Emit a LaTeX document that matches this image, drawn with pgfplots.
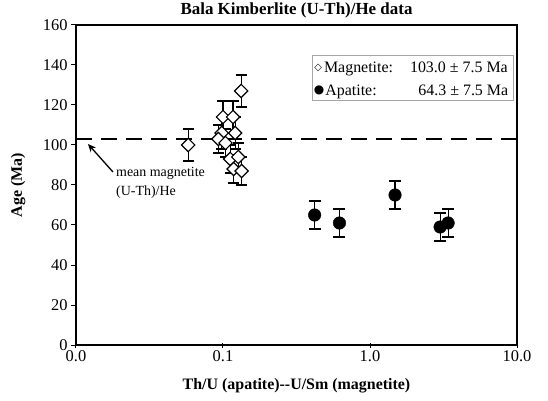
\documentclass[border=0pt]{standalone}
\usepackage{pgfplots}
\pgfplotsset{compat=1.18}
\usepackage{pgfplotstable}
\usepackage{fontspec}
\setmainfont{Liberation Serif}
\newfontfamily\symfont{DejaVu Sans}
\usetikzlibrary{arrows.meta}

% (U-Th)/He ages with 1-sigma uncertainties
\pgfplotstableread{
x      y     e
0.058  100   8
0.100  114   8
0.117  114   8
0.098  106   8
0.121  106   8
0.093  103   7
0.104  101   7
0.133  127   8
0.112   93   7
0.127   94   7
0.118   88   7
0.134   87   7
}\magnetite

\pgfplotstableread{
x      y     e
0.42   65    7
0.62   61    7
1.48   75    7
3.00   59    7
3.40   61    7
}\apatite

\begin{document}
\begin{tikzpicture}
\useasboundingbox (-76bp,-56bp) rectangle (472bp,345bp);
\begin{axis}[
  scale only axis,
  width=441bp, height=320bp,
  xmode=log,
  xmin=0.01, xmax=10, ymin=0, ymax=160,
  xtick={0.01,0.1,1,10},
  xticklabels={0.0,0.1,1.0,10.0},
  minor xtick={},
  ytick={0,20,...,160},
  xtick pos=bottom, ytick pos=left,
  xtick align=center, ytick align=outside,
  major tick length=5bp,
  tick style={black, line width=1bp},
  axis line style={black, line width=1.3bp},
  /pgf/number format/assume math mode=true,
  tick label style={font=\fontsize{16.5}{16.5}\selectfont},
  title={Bala Kimberlite (U-Th)/He data},
  title style={font=\fontsize{17}{17}\selectfont\bfseries, inner sep=0pt,
    at={(axis description cs:0.5,1)}, anchor=base, yshift=5bp},
  xlabel={Th/U (apatite)-{}-U/Sm (magnetite)},
  xlabel style={font=\fontsize{16}{16}\selectfont\bfseries, at={(axis description cs:0.5,0)}, anchor=north, yshift=-30bp},
  ylabel={Age (Ma)},
  ylabel style={font=\fontsize{16}{16}\selectfont\bfseries, at={(axis description cs:-0.131,0.5)}, anchor=center},
  clip=false,
]

% mean magnetite age
\addplot[black, line width=1.6bp, dash pattern=on 16bp off 9bp] coordinates {(0.01,103) (10,103)};

\addplot[only marks, mark=square*, mark size=4.7bp,
  mark options={rotate=45, fill=white, draw=black, line width=1.2bp},
  error bars/.cd, y dir=both, y explicit,
  error bar style={black, line width=1.1bp},
  error mark options={rotate=90, mark size=5.5bp, line width=1.1bp, black}]
  table[x=x, y=y, y error=e]{\magnetite};

\addplot[only marks, mark=*, mark size=6.3bp,
  mark options={fill=black, draw=black},
  error bars/.cd, y dir=both, y explicit,
  error bar style={black, line width=1.1bp},
  error mark options={rotate=90, mark size=6bp, line width=1.1bp, black}]
  table[x=x, y=y, y error=e]{\apatite};

% annotation
\draw[-{Stealth[length=8bp,width=7bp]}, line width=1.3bp, black]
  (axis cs:0.01785,86.5) -- (axis cs:0.01207,100.5);
\node[anchor=north west, inner sep=0, align=left, font=\fontsize{14}{19}\selectfont]
  at (axis cs:0.01871,89) {mean magnetite\\(U-Th)/He};

% legend box
\draw[gray!70, line width=0.7bp] (rel axis cs:0.535,0.766) rectangle (rel axis cs:0.991,0.906);
\node[anchor=center, inner sep=0, font=\symfont\fontsize{10}{10}\selectfont] at (rel axis cs:0.549,0.866) {◇};
\node[anchor=center, inner sep=0, font=\symfont\fontsize{12}{12}\selectfont] at (rel axis cs:0.551,0.797) {●};
\node[anchor=base west, inner sep=0, font=\fontsize{16}{16}\selectfont] at (rel axis cs:0.562,0.850) {Magnetite:};
\node[anchor=base west, inner sep=0, font=\fontsize{16}{16}\selectfont] at (rel axis cs:0.565,0.781) {Apatite:};
\node[anchor=base west, inner sep=0, font=\fontsize{16}{16}\selectfont] at (rel axis cs:0.757,0.850) {103.0 ± 7.5 Ma};
\node[anchor=base west, inner sep=0, font=\fontsize{16}{16}\selectfont] at (rel axis cs:0.776,0.781) {64.3 ± 7.5 Ma};
\end{axis}
\end{tikzpicture}
\end{document}
